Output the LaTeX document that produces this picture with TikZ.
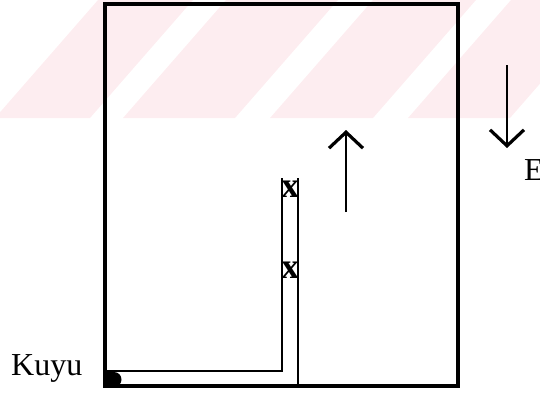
\documentclass[tikz,border=0pt]{standalone}
\usepackage{fontspec}
\setmainfont{Liberation Serif}
\usepackage{tikz}
\usetikzlibrary{arrows.meta,calc}
\definecolor{markpink}{RGB}{253,237,240}

\begin{document}
\begin{tikzpicture}[
    x=1pt, y=-1pt,
    wall/.style={draw=black, line width=3.4pt},
    pipe/.style={draw=black, line width=2.8pt},
    flow/.style={draw=black, line width=2.6pt, -{Straight Barb[length=16pt, width=34pt, line width=3.2pt]}},
    valve/.style={inner sep=0pt, font=\fontsize{36}{36}\selectfont\bfseries},
    tag/.style={inner sep=0pt, font=\fontsize{32}{32}\selectfont}
]
\useasboundingbox (0,0) rectangle (540,392);

% watermark band
\foreach \b/\w in {-5/95, 123/112, 270/103, 408/102}
    \fill[markpink] (\b,118) -- ++(\w,0) -- ++(103,-118) -- ++(-\w,0) -- cycle;

% field outline
\draw[wall] (105,4) rectangle (458,386);

% pipe
\coordinate (ptop) at (282,178);
\coordinate (pbend) at (282,371);
\coordinate (pend) at (105,371);
\coordinate (qtop) at (298,178);
\coordinate (qfoot) at (298,386);
\draw[pipe] (ptop) -- (pbend) -- (pend);
\draw[pipe] (qtop) -- (qfoot);
\fill (105,372) -- (114,372) arc[start angle=-90, end angle=90, radius=7.5] -- (105,387) -- cycle;

% valves
\node[valve] (v1) at (290,189) {x};
\node[valve] (v2) at (290,270) {x};

% flow arrows
\coordinate (upfoot) at (346,212);
\coordinate (uphead) at (346,130);
\coordinate (dntop) at (507,65);
\coordinate (dnhead) at (507,148);
\draw[flow] (upfoot) -- (uphead);
\draw[flow] (dntop) -- (dnhead);

% labels
\node[tag, anchor=base west] (kuyu) at (11,375) {Kuyu};
\node[tag, anchor=base west] (east) at (524,180) {E};
\end{tikzpicture}
\end{document}
